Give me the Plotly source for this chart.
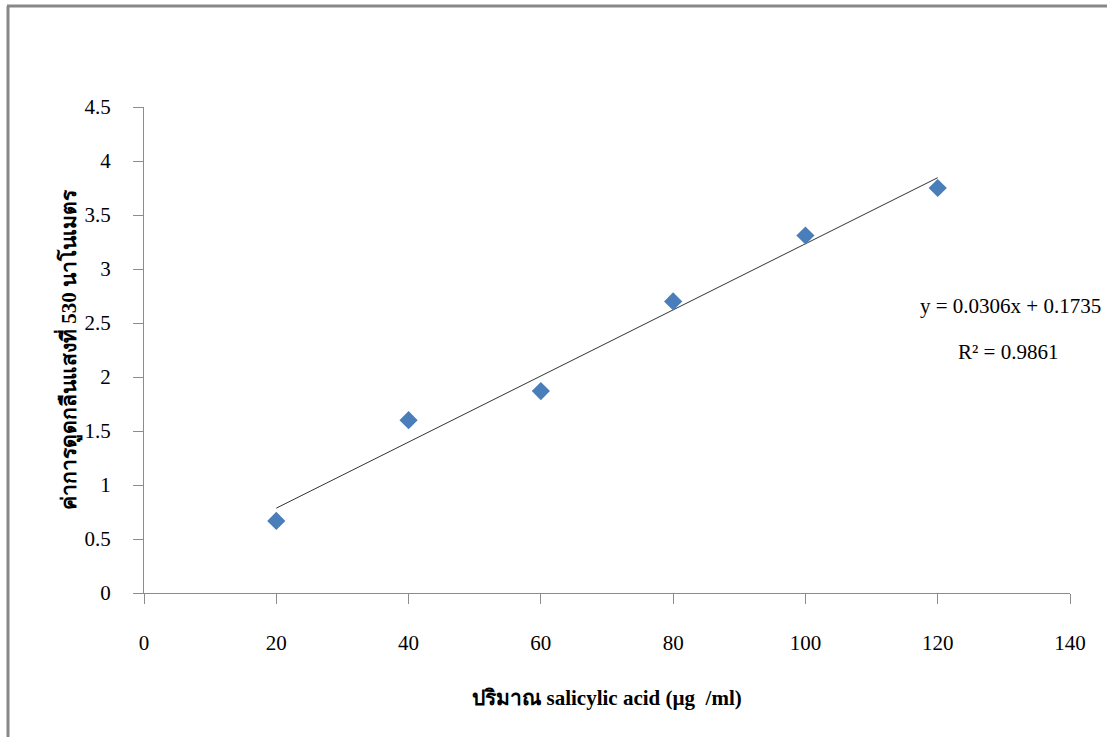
import plotly.graph_objects as go

# Data
conc = [20, 40, 60, 80, 100, 120]
absorbance = [0.667, 1.60, 1.87, 2.70, 3.31, 3.75]
slope = 0.0306
intercept = 0.1735
eq_text = "y = 0.0306x + 0.1735"
r2_text = "R² = 0.9861"
x_title = "ปริมาณ salicylic acid (µg  /ml)"
y_title = "ค่าการดูดกลืนแสงที่ 530 นาโนเมตร"

W, H = 1107, 737
L, R, T, B = 144, 37, 107, 144
pw, ph = W - L - R, H - T - B

def px_x(p):
    return (p - L) / pw

def px_y(p):
    return (H - B - p) / ph

trend_x = [min(conc), max(conc)]
trend_y = [slope * v + intercept for v in trend_x]

fig = go.Figure()
fig.add_trace(go.Scatter(x=trend_x, y=trend_y, mode="lines",
                         line=dict(color="#333333", width=1), showlegend=False))
fig.add_trace(go.Scatter(x=conc, y=absorbance, mode="markers",
                         marker=dict(symbol="diamond", size=14, color="#4a7ebb"),
                         showlegend=False))

font = "Liberation Serif, Times New Roman, serif"
fig.update_layout(
    width=W, height=H,
    margin=dict(l=L, r=R, t=T, b=B),
    paper_bgcolor="white", plot_bgcolor="white",
    font=dict(family=font, size=21, color="black"),
    xaxis=dict(range=[0, 140], tickvals=[0, 20, 40, 60, 80, 100, 120, 140],
               showgrid=False, zeroline=False, showline=True, linecolor="#8c8c8c",
               linewidth=1, ticks="outside", ticklen=10, tickcolor="#8c8c8c",
               ticklabelstandoff=21,
               title=dict(text="<b>" + x_title + "</b>", standoff=36,
                          font=dict(size=21))),
    yaxis=dict(range=[0, 4.5], tickvals=[0, 0.5, 1, 1.5, 2, 2.5, 3, 3.5, 4, 4.5],
               ticktext=["0", "0.5", "1", "1.5", "2", "2.5", "3", "3.5", "4", "4.5"],
               showgrid=False, zeroline=False, showline=True, linecolor="#8c8c8c",
               linewidth=1, ticks="outside", ticklen=10, tickcolor="#8c8c8c",
               ticklabelstandoff=18,
               title=dict(text="<b>" + y_title + "</b>", standoff=2,
                          font=dict(size=21))),
    annotations=[
        dict(x=px_x(1010), y=px_y(306), xref="paper", yref="paper", text=eq_text,
             showarrow=False, font=dict(size=21), xanchor="center", yanchor="middle"),
        dict(x=px_x(1008), y=px_y(352), xref="paper", yref="paper", text=r2_text,
             showarrow=False, font=dict(size=21), xanchor="center", yanchor="middle"),
    ],
    shapes=[
        dict(type="line", xref="paper", yref="paper", x0=px_x(8), x1=px_x(8),
             y0=px_y(H + 5), y1=px_y(6), line=dict(color="#888888", width=3)),
        dict(type="line", xref="paper", yref="paper", x0=px_x(7), x1=px_x(W + 5),
             y0=px_y(6), y1=px_y(6), line=dict(color="#888888", width=3)),
    ],
)

fig.write_html("out.html")
